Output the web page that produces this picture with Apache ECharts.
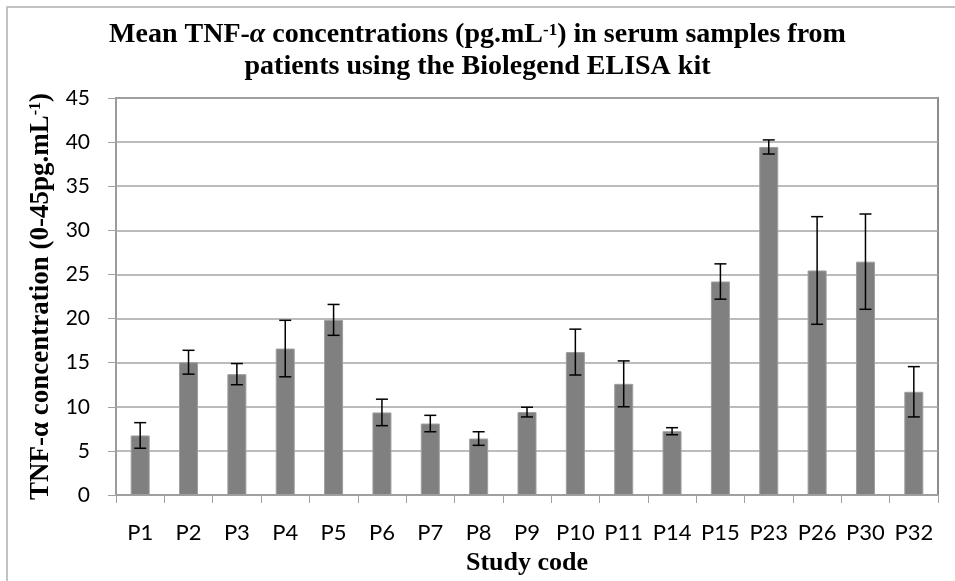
<!DOCTYPE html>
<html>
<head>
<meta charset="utf-8">
<script src="https://cdn.jsdelivr.net/npm/echarts@6/dist/echarts.min.js"></script>
<style>
html,body{margin:0;padding:0;background:#fff;}
#chart{width:955px;height:581px;}
</style>
</head>
<body>
<div id="chart"></div>
<script>
const categories = ['P1','P2','P3','P4','P5','P6','P7','P8','P9','P10','P11','P14','P15','P23','P26','P30','P32'];
const means = [6.75, 15.05, 13.7, 16.6, 19.85, 9.36, 8.1, 6.4, 9.4, 16.2, 12.6, 7.23, 24.2, 39.45, 25.45, 26.45, 11.7];
const errors = [1.45, 1.35, 1.2, 3.2, 1.75, 1.5, 0.93, 0.77, 0.55, 2.6, 2.6, 0.4, 2.0, 0.8, 6.1, 5.4, 2.85];
const yTicks = { min: 0, max: 45, interval: 5 };

const errData = means.map((m, i) => [i, m - errors[i], m + errors[i]]);

const serif = '"Liberation Serif", "Times New Roman", serif';
const sans = 'Lato, "Open Sans", sans-serif';

const chart = echarts.init(document.getElementById('chart'), null, {renderer: 'canvas'});
chart.setOption({
  backgroundColor: '#fff',
  animation: false,
  title: {
    left: 'center',
    top: 14,
    text: '{b|Mean TNF-}{i|α}{b| concentrations (pg.mL}{s|-1}{b|) in serum samples from}\n{b|patients using the Biolegend ELISA kit}',
    textStyle: {
      rich: {
        b: {fontFamily: serif, fontWeight: 'bold', fontSize: 28, color: '#000', lineHeight: 32},
        i: {fontFamily: serif, fontWeight: 'bold', fontStyle: 'italic', fontSize: 28, color: '#000', lineHeight: 32},
        s: {fontFamily: serif, fontWeight: 'bold', fontSize: 17, color: '#000', lineHeight: 32, verticalAlign: 'top', padding: [3,0,0,0]}
      }
    }
  },
  graphic: [{
    type: 'rect',
    shape: {x: 7, y: 7, width: 960, height: 600},
    style: {fill: 'none', stroke: '#b0b0b0', lineWidth: 1.5},
    silent: true
  }],
  grid: {
    left: 116, right: 17, top: 98, bottom: 81,
    show: true, borderColor: '#8c8c8c', borderWidth: 2, backgroundColor: 'transparent'
  },
  xAxis: {
    type: 'category',
    data: categories,
    boundaryGap: true,
    axisLine: {lineStyle: {color: '#a0a0a0', width: 1.5}},
    axisTick: {show: true, length: 8, lineStyle: {color: '#a0a0a0', width: 1}},
    axisLabel: {fontFamily: sans, fontSize: 22, color: '#000', margin: 27, interval: 0},
    name: 'Study code',
    nameLocation: 'middle',
    nameGap: 55,
    nameTextStyle: {fontFamily: serif, fontWeight: 'bold', fontSize: 26, color: '#000'}
  },
  yAxis: {
    type: 'value',
    min: yTicks.min, max: yTicks.max, interval: yTicks.interval,
    axisLine: {show: true, lineStyle: {color: '#a0a0a0', width: 1.5}},
    axisTick: {show: true, length: 8, lineStyle: {color: '#a0a0a0', width: 1}},
    axisLabel: {fontFamily: sans, fontSize: 21, color: '#000', margin: 26},
    splitLine: {show: true, lineStyle: {color: '#a6a6a6', width: 1.5}},
    name: '{b|TNF-α concentration (0-45pg.mL}{s|-1}{b|)}',
    nameLocation: 'middle',
    nameGap: 60,
    nameRotate: 90,
    nameTextStyle: {
      rich: {
        b: {fontFamily: serif, fontWeight: 'bold', fontSize: 27, color: '#000', lineHeight: 30},
        s: {fontFamily: serif, fontWeight: 'bold', fontSize: 16, color: '#000', lineHeight: 30, verticalAlign: 'top', padding: [2,0,0,0]}
      }
    }
  },
  series: [
    {
      type: 'bar',
      data: means,
      barWidth: 19,
      itemStyle: {color: '#808080', borderColor: '#9e9e9e', borderWidth: 1},
      silent: true
    },
    {
      type: 'custom',
      data: errData,
      silent: true,
      z: 5,
      renderItem: function (params, api) {
        const x = api.value(0);
        const lo = api.coord([x, api.value(1)]);
        const hi = api.coord([x, api.value(2)]);
        const hw = 6;
        const style = {stroke: '#000', lineWidth: 1.5};
        return {
          type: 'group',
          children: [
            {type: 'line', shape: {x1: hi[0], y1: hi[1], x2: lo[0], y2: lo[1]}, style: style},
            {type: 'line', shape: {x1: hi[0]-hw, y1: hi[1], x2: hi[0]+hw, y2: hi[1]}, style: style},
            {type: 'line', shape: {x1: lo[0]-hw, y1: lo[1], x2: lo[0]+hw, y2: lo[1]}, style: style}
          ]
        };
      }
    }
  ]
});
</script>
</body>
</html>
